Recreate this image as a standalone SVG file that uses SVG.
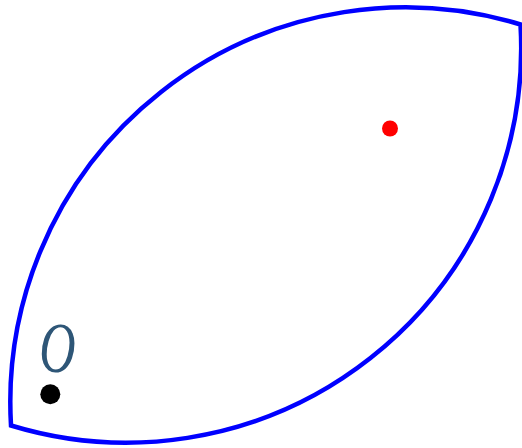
<svg xmlns="http://www.w3.org/2000/svg" width="522" height="448" viewBox="0 0 522 448">
<style>
.lens{fill:none;stroke:#0000ff;stroke-width:4.5;stroke-linejoin:miter}
.lbl{font-family:"Liberation Serif","Times New Roman",serif;font-style:italic;fill:#2e5677}
</style>
<rect width="522" height="448" fill="#ffffff"/>
<g id="lens">
<path class="lens" d="M 11 425.5 A 395 395 0 0 1 520.5 24.5 A 395 395 0 0 1 11 425.5 Z"/>
</g>
<g id="red-point"><circle cx="390" cy="128.5" r="8" fill="#ff0000"/></g>
<g id="origin"><circle cx="50.3" cy="394.3" r="10" fill="#000000"/></g>
<g id="label-O"><text class="lbl" x="0" y="0" font-size="72" text-anchor="middle" transform="translate(57.5 371.5) scale(0.7 1)">O</text></g>
</svg>
